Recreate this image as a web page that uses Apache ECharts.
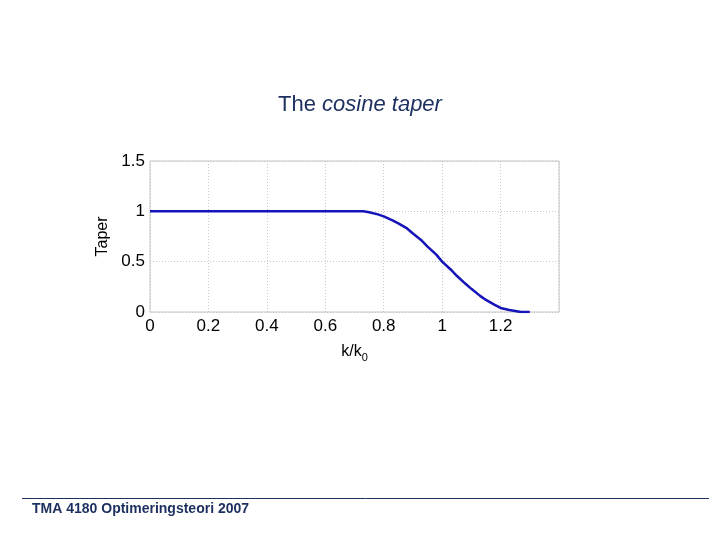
<!DOCTYPE html>
<html><head><meta charset="utf-8">
<script src="https://cdn.jsdelivr.net/npm/echarts@6/dist/echarts.min.js"></script>
<style>html,body{margin:0;padding:0;background:#fff}#c{width:720px;height:540px}</style>
</head><body><div id="c"></div>
<script>
const kValues = [0, 0.1, 0.2, 0.3, 0.4, 0.5, 0.6, 0.7, 0.73, 0.75, 0.78, 0.8, 0.83, 0.85, 0.88, 0.9, 0.93, 0.95, 0.98, 1.0, 1.03, 1.05, 1.08, 1.1, 1.13, 1.15, 1.18, 1.2, 1.23, 1.25, 1.27, 1.3];
const taperValues = [1, 1, 1, 1, 1, 1, 1, 1, 1, 0.99, 0.97, 0.95, 0.91, 0.88, 0.83, 0.78, 0.71, 0.65, 0.57, 0.50, 0.42, 0.36, 0.28, 0.23, 0.16, 0.12, 0.07, 0.04, 0.02, 0.01, 0, 0];
const xTicks = [0, 0.2, 0.4, 0.6, 0.8, 1, 1.2];
const yTicks = [0, 0.5, 1, 1.5];

const chart = echarts.init(document.getElementById('c'), null, {renderer: 'canvas'});
const font = 'Liberation Sans, Arial, sans-serif';
chart.setOption({
  animation: false,
  title: {
    text: '{n|The }{i|cosine taper}',
    left: 'center', top: 89,
    textStyle: {
      fontWeight: 'normal',
      rich: {
        n: {fontSize: 22, color: '#1c2f5e', fontFamily: font, fontWeight: 'normal'},
        i: {fontSize: 22, color: '#1c2f5e', fontFamily: font, fontStyle: 'italic', fontWeight: 'normal'}
      }
    }
  },
  grid: {left: 150, right: 161, top: 161, bottom: 228, show: true, borderColor: '#c4c4c4', borderWidth: 1},
  xAxis: {
    type: 'value', min: 0, max: 1.4, interval: 0.2,
    name: '{a|k/k}{s|0}', nameLocation: 'middle', nameGap: 28,
    nameTextStyle: {rich: {
      a: {fontSize: 16, color: '#000', fontFamily: font},
      s: {fontSize: 11, color: '#000', fontFamily: font, verticalAlign: 'bottom', padding: [12, 0, 0, 0]}
    }},
    axisLine: {show: false},
    axisTick: {show: false},
    axisLabel: {fontSize: 17, color: '#000', fontFamily: font, margin: 6,
      formatter: v => xTicks.some(t => Math.abs(t - v) < 1e-9) ? String(+v.toFixed(1)) : ''},
    splitLine: {show: true, lineStyle: {color: '#c8c8c8', type: [1, 2], width: 1}}
  },
  yAxis: {
    type: 'value', min: 0, max: 1.5, interval: 0.5,
    name: 'Taper', nameLocation: 'middle', nameGap: 38, nameRotate: 90,
    nameTextStyle: {fontSize: 16, color: '#000', fontFamily: font},
    axisLine: {show: false},
    axisTick: {show: false},
    axisLabel: {fontSize: 17, color: '#000', fontFamily: font, margin: 5,
      formatter: v => yTicks.some(t => Math.abs(t - v) < 1e-9) ? String(v) : ''},
    splitLine: {show: true, lineStyle: {color: '#c8c8c8', type: [1, 2], width: 1}}
  },
  series: [{
    type: 'line', showSymbol: false, smooth: false,
    data: kValues.map((k, i) => [k, taperValues[i]]),
    lineStyle: {color: '#1414b8', width: 2.5}
  }],
  graphic: [
    {type: 'line', shape: {x1: 22, y1: 498.5, x2: 709, y2: 498.5}, style: {stroke: '#1c2f5e', lineWidth: 1}},
    {type: 'text', left: 32, top: 502, style: {text: 'TMA 4180 Optimeringsteori 2007', fill: '#1c2f5e',
      font: 'bold 14px "Liberation Sans Narrow", "Liberation Sans", Arial, sans-serif'}}
  ]
});
</script></body></html>
